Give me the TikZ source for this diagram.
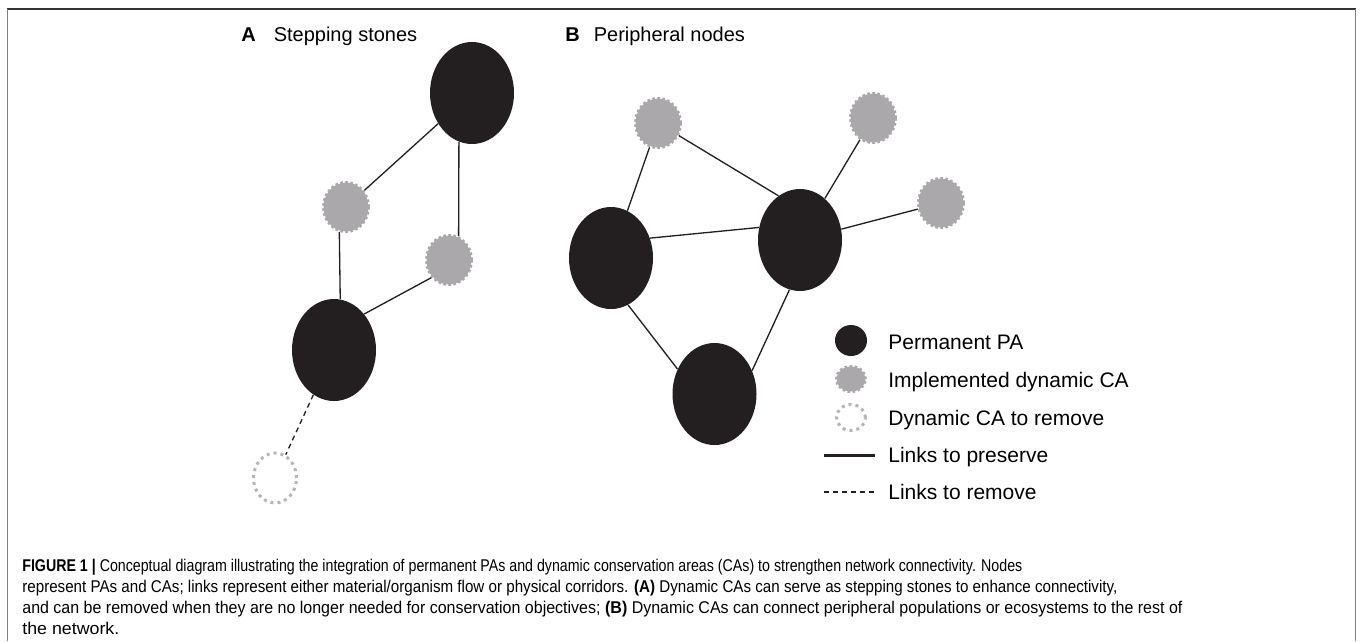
\documentclass[tikz,border=0pt]{standalone}
\usepackage{fontspec}
\setmainfont{Liberation Sans}
\usepackage{graphicx}
\usetikzlibrary{shapes}
\usetikzlibrary{calc}
\definecolor{pablack}{RGB}{35,31,32}
\definecolor{cagray}{RGB}{170,168,171}
\definecolor{gonegray}{RGB}{182,182,182}
\newcommand{\captline}[2]{\resizebox{#1}{\height}{\fontsize{9.67}{11}\selectfont #2}}

\begin{document}
\begin{tikzpicture}[x=0.2mm,y=-0.2mm,
permanent/.style={ellipse,fill=pablack,inner sep=0,minimum width=16.8mm,minimum height=20.4mm},
dynamic/.style={ellipse,fill=cagray,draw=cagray,line width=0.6mm,dash pattern=on 0.5mm off 0.5mm,inner sep=0,minimum width=9mm,minimum height=9.8mm},
removed/.style={ellipse,draw=gonegray,fill=white,line width=0.6mm,dash pattern=on 0.6mm off 0.8mm,inner sep=0,minimum width=8.6mm,minimum height=10mm},
felirat/.style={anchor=base west,inner sep=0,font=\fontsize{11.38}{13}\selectfont},
jelmagyarazat/.style={anchor=base west,inner sep=0,font=\fontsize{11.95}{14}\selectfont}
]

\useasboundingbox (0,0) rectangle (1360,641);

% frame
\draw[black!80, line width=0.85pt] (7,9)--(1356,9);
\draw[black!50, line width=1.1pt] (7.5,9)--(7.5,641);
\draw[black!50, line width=1.1pt] (1355.5,9)--(1355.5,641);

% A
\node[felirat](title-a) at (241,41){\textbf{A}\hspace{0.9em}Stepping stones};

\node[permanent](a-pa-top) at (472,93){};
\node[dynamic](a-ca-left) at (346,207){};
\node[dynamic](a-ca-right) at (449,260){};
\node[permanent](a-pa-bottom) at (334,350){};
\node[removed](a-ca-gone) at (275,478){};

\begin{scope}[pablack, line width=0.75pt]
\draw (a-pa-top)--(a-ca-left);
\draw (a-pa-top.255)--(a-ca-right.68);
\draw (a-ca-left.255)--(a-pa-bottom.83);
\draw (a-ca-right.225)--(a-pa-bottom.50);
\draw[dash pattern=on 1mm off 0.8mm] (a-pa-bottom)--(a-ca-gone);
\end{scope}

% B
\node[felirat](title-b) at (565,41){\textbf{B}\hspace{0.7em}Peripheral nodes};

\node[dynamic](b-ca-nw) at (658,123){};
\node[dynamic](b-ca-ne) at (873,118){};
\node[dynamic](b-ca-e) at (941,203){};
\node[permanent](b-pa-left) at (611,258){};
\node[permanent](b-pa-mid) at (800,240){};
\node[permanent](b-pa-bottom) at (714.5,394){};

\begin{scope}[pablack, line width=0.75pt]
\draw (b-ca-nw)--(b-pa-left);
\draw (b-ca-nw)--(b-pa-mid.116);
\draw (b-pa-left.27)--(b-pa-mid.163);
\draw (b-pa-left.290)--(b-pa-bottom.146);
\draw (b-pa-mid.258)--(b-pa-bottom.32);
\draw (b-pa-mid)--(b-ca-ne);
\draw (b-pa-mid)--(b-ca-e);
\end{scope}

% legend
\node[permanent, minimum width=6.4mm, minimum height=6.2mm](key-pa) at (851,340.5){};
\node[dynamic, minimum width=5.8mm, minimum height=5mm](key-ca) at (851,379){};
\node[removed, minimum width=5.8mm, minimum height=5.2mm](key-gone) at (851,417.5){};
\coordinate (key-keep-a) at (824,455.5);
\coordinate (key-keep-b) at (875,455.5);
\coordinate (key-cut-a) at (824,492);
\coordinate (key-cut-b) at (875,492);
\draw[pablack, line width=1.3pt] (key-keep-a)--(key-keep-b);
\draw[pablack, line width=0.6pt, dash pattern=on 1mm off 0.8mm] (key-cut-a)--(key-cut-b);

\node[jelmagyarazat](text-pa) at (888,349){Permanent PA};
\node[jelmagyarazat](text-ca) at (888,387.5){Implemented dynamic CA};
\node[jelmagyarazat](text-gone) at (888,425.5){Dynamic CA to remove};
\node[jelmagyarazat](text-keep) at (888,462.5){Links to preserve};
\node[jelmagyarazat](text-cut) at (888,499){Links to remove};

% caption
\node[anchor=base west, inner sep=0](cap-1) at (22,571){\captline{200mm}{\textbf{FIGURE 1 |} Conceptual diagram illustrating the integration of permanent PAs and dynamic conservation areas (CAs) to strengthen network connectivity. Nodes}};
\node[anchor=base west, inner sep=0](cap-2) at (22,592){\captline{219mm}{represent PAs and CAs; links represent either material/organism flow or physical corridors. \textbf{(A)} Dynamic CAs can serve as stepping stones to enhance connectivity,}};
\node[anchor=base west, inner sep=0](cap-3) at (22,613){\captline{232mm}{and can be removed when they are no longer needed for conservation objectives; \textbf{(B)} Dynamic CAs can connect peripheral populations or ecosystems to the rest of}};
\node[anchor=base west, inner sep=0](cap-4) at (22,634){\captline{19.4mm}{the network.}};

\end{tikzpicture}
\end{document}
